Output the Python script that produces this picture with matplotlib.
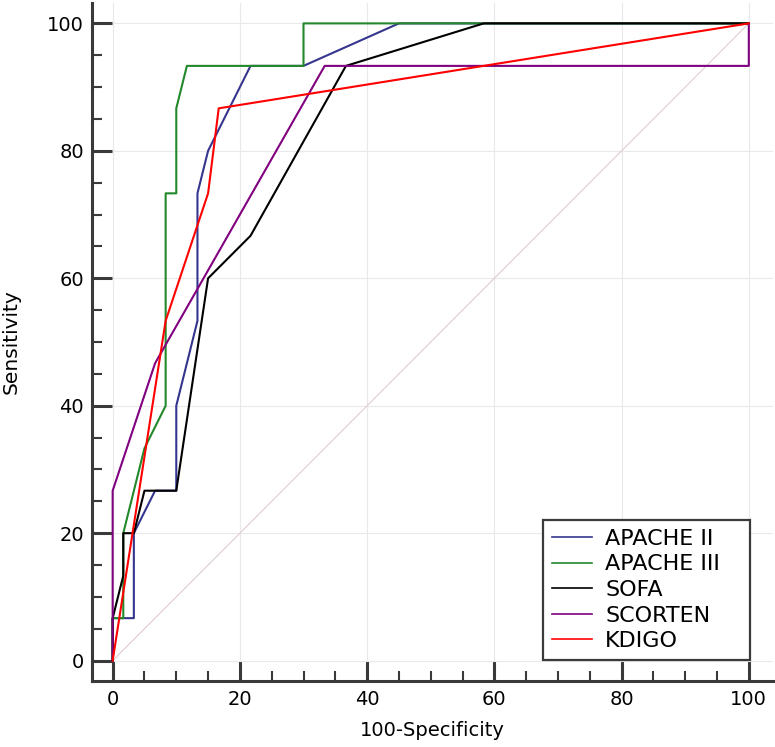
import matplotlib
matplotlib.use("Agg")
import matplotlib.pyplot as plt
from matplotlib.ticker import MultipleLocator

plt.rcParams['font.family'] = ['DejaVu Sans']

# ROC curve points (100-Specificity, Sensitivity)
apache2_x = [0, 0, 3.33, 3.33, 6.67, 10, 10, 11.67, 13.33, 13.33, 15, 21.67, 30, 45, 100]
apache2_y = [0, 6.67, 6.67, 20, 26.67, 26.67, 40, 46.67, 53.33, 73.33, 80, 93.33, 93.33, 100, 100]

apache3_x = [0, 0, 1.67, 1.67, 5, 8.33, 8.33, 10, 10, 11.67, 30, 30, 100]
apache3_y = [0, 6.67, 6.67, 20, 33.33, 40, 73.33, 73.33, 86.67, 93.33, 93.33, 100, 100]

sofa_x = [0, 0, 1.67, 1.67, 3.33, 5, 10, 15, 21.67, 36.67, 58.33, 100]
sofa_y = [0, 6.67, 13.33, 20, 20, 26.67, 26.67, 60, 66.67, 93.33, 100, 100]

scorten_x = [0, 0, 6.67, 33.33, 100, 100]
scorten_y = [0, 26.67, 46.67, 93.33, 93.33, 100]

kdigo_x = [0, 8.33, 15, 16.67, 100]
kdigo_y = [0, 53.33, 73.33, 86.67, 100]

labels = ["APACHE II", "APACHE III", "SOFA", "SCORTEN", "KDIGO"]
colors = ["#35358f", "#22882a", "#000000", "#800080", "#ff0000"]

fig = plt.figure(figsize=(7.75, 7.47), dpi=100)
ax = fig.add_axes([0.1191, 0.0888, 0.8783, 0.9072])

spine_col = "#3a3a3a"
ax.set_xlim(-3.2, 103.8)
ax.set_ylim(-3.14, 103.2)
ax.grid(True, which='major', color='#e9e9e9', linewidth=0.8, zorder=0)
ax.set_axisbelow(True)

# reference diagonal
ax.plot([0, 100], [0, 100], color='#ddcdd1', linewidth=0.8, zorder=1)

series = [(apache2_x, apache2_y), (apache3_x, apache3_y), (sofa_x, sofa_y),
          (scorten_x, scorten_y), (kdigo_x, kdigo_y)]
for (xs, ys), lab, c in zip(series, labels, colors):
    ax.plot(xs, ys, color=c, linewidth=1.5, label=lab, zorder=3)

for s in ['top', 'right']:
    ax.spines[s].set_visible(False)
for s in ['left', 'bottom']:
    ax.spines[s].set_linewidth(2.2)
    ax.spines[s].set_color(spine_col)

ax.xaxis.set_major_locator(MultipleLocator(20))
ax.yaxis.set_major_locator(MultipleLocator(20))
ax.xaxis.set_minor_locator(MultipleLocator(5))
ax.yaxis.set_minor_locator(MultipleLocator(5))
ax.tick_params(which='major', direction='in', length=14.4, width=2.2, color=spine_col,
               labelsize=14, pad=6)
ax.tick_params(which='minor', direction='in', length=7.2, width=1.5, color=spine_col)
ax.tick_params(axis='x', which='major', pad=7)

ax.set_xlabel("100-Specificity", fontsize=14)
ax.set_ylabel("Sensitivity", fontsize=14.5)
ax.xaxis.set_label_coords(0.5, -0.0595)
ax.yaxis.set_label_coords(-0.106, 0.5)

leg = ax.legend(loc='lower left', bbox_to_anchor=(0.662, 0.0305, 0.304, 0.2081),
                mode='expand', fontsize=16, frameon=True, fancybox=False,
                borderpad=0.4, handlelength=1.8, handletextpad=0.6,
                labelspacing=0.25, borderaxespad=0)
leg.get_frame().set_edgecolor(spine_col)
leg.get_frame().set_linewidth(1.6)
leg.get_frame().set_alpha(1)
for line in leg.get_lines():
    line.set_linewidth(1.2)

fig.savefig("out.png", dpi=100)
